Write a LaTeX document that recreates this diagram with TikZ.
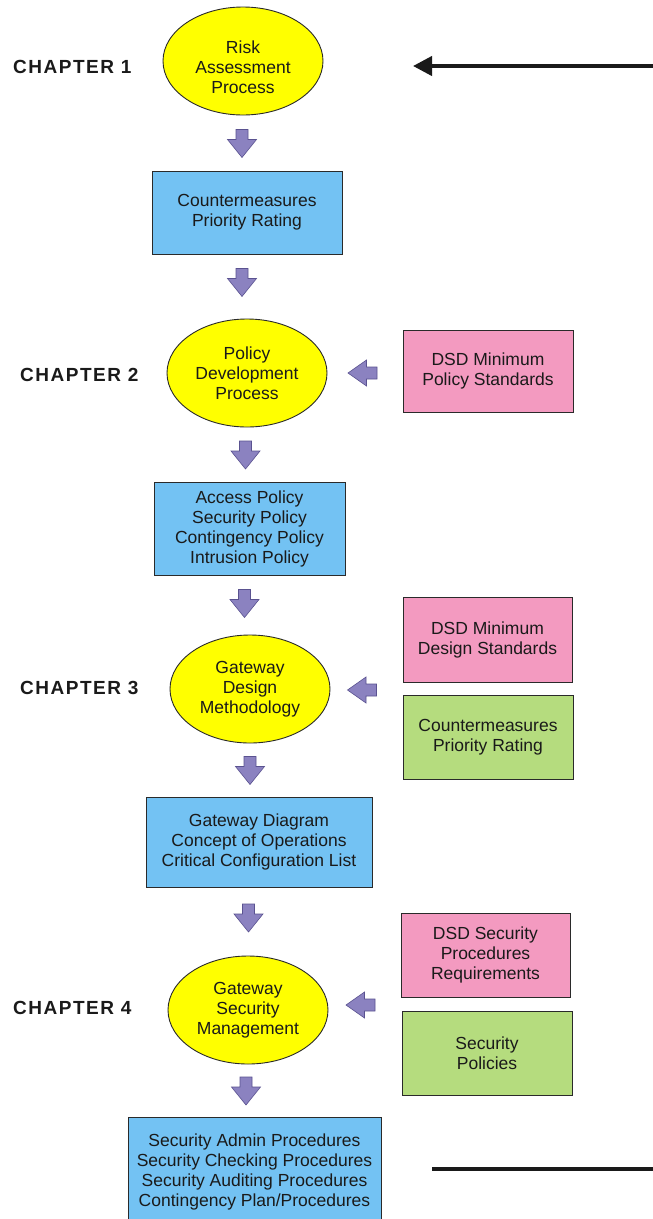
\documentclass[tikz,border=0pt]{standalone}
\usepackage{fontspec}
\setmainfont{Liberation Sans}
\newfontfamily\chapfont[LetterSpace=8]{Liberation Sans}
\usetikzlibrary{arrows.meta,shapes.geometric}
\definecolor{ellfill}{HTML}{FFFF00}
\definecolor{bluefill}{HTML}{73C2F3}
\definecolor{pinkfill}{HTML}{F39AC0}
\definecolor{greenfill}{HTML}{B5DC7E}
\definecolor{arrfill}{HTML}{8B82C0}
\definecolor{arrline}{HTML}{5A5290}
\definecolor{outline}{HTML}{2A2A2A}
\definecolor{txtcol}{HTML}{1A1A1A}
\begin{document}
\begin{tikzpicture}[x=1pt,y=-1pt,
  txt/.style={font=\fontsize{17.5}{20}\selectfont, align=center, text=txtcol, inner sep=0pt},
  ell/.style={txt, ellipse, draw=outline, line width=0.9pt, fill=ellfill, minimum width=160pt, minimum height=108pt},
  bluebox/.style={txt, rectangle, draw=outline, line width=0.9pt, fill=bluefill},
  pinkbox/.style={txt, rectangle, draw=outline, line width=0.9pt, fill=pinkfill},
  greenbox/.style={txt, rectangle, draw=outline, line width=0.9pt, fill=greenfill},
  chap/.style={anchor=west, inner sep=0pt, text=txtcol, font=\chapfont\bfseries\fontsize{19}{20}\selectfont},
  bigline/.style={line width=4pt, draw=txtcol},
  pics/downarr/.style={code={
    \filldraw[fill=arrfill, draw=arrline, line width=0.6pt]
      (-6,-14) -- (6,-14) -- (6,-4) -- (14.5,-4) -- (0,14) -- (-14.5,-4) -- (-6,-4) -- cycle;}},
  pics/leftarr/.style={code={
    \filldraw[fill=arrfill, draw=arrline, line width=0.6pt]
      (14.5,-6) -- (14.5,6) -- (4,6) -- (4,13) -- (-14.5,0) -- (4,-13) -- (4,-6) -- cycle;}}
]
\clip (0,0) rectangle (653,1219);
\useasboundingbox (0,0) rectangle (653,1219);
\fill[white] (0,0) rectangle (653,1219);

% chapter labels
\node[chap] (c1) at (13,67) {CHAPTER 1};
\node[chap] (c2) at (20,375) {CHAPTER 2};
\node[chap] (c3) at (20,688) {CHAPTER 3};
\node[chap] (c4) at (13,1008) {CHAPTER 4};

% main column
\node[ell] (e1) at (243,61) {};
\node[txt] (e1t) at (243,67) {Risk\\Assessment\\Process};
\node[bluebox, minimum width=190pt, minimum height=83pt] (b1) at (247,212.5) {Countermeasures\\Priority Rating};
\node[ell] (e2) at (247,373) {Policy\\Development\\Process};
\node[bluebox, minimum width=191pt, minimum height=93pt] (b2) at (249.5,528.5) {Access Policy\\Security Policy\\Contingency Policy\\Intrusion Policy};
\node[ell] (e3) at (250,689) {Gateway\\Design\\Methodology};
\node[bluebox, minimum width=226pt, minimum height=90pt] (b3) at (259,842) {Gateway Diagram\\Concept of Operations\\Critical Configuration List};
\node[ell] (e4) at (248,1010) {Gateway\\Security\\Management};
\node[bluebox, minimum width=253pt, minimum height=109pt] (b4) at (254.5,1171.5) {Security Admin Procedures\\Security Checking Procedures\\Security Auditing Procedures\\Contingency Plan/Procedures};

% side inputs
\node[pinkbox, minimum width=170pt, minimum height=82pt] (p1) at (488,371) {DSD Minimum\\Policy Standards};
\node[pinkbox, minimum width=169pt, minimum height=85pt] (p2) at (487.5,639.5) {DSD Minimum\\Design Standards};
\node[greenbox, minimum width=170pt, minimum height=84pt] (g1) at (488,737) {Countermeasures\\Priority Rating};
\node[pinkbox, minimum width=169pt, minimum height=84pt] (p3) at (485.5,955) {DSD Security\\Procedures\\Requirements};
\node[greenbox, minimum width=170pt, minimum height=84pt] (g2) at (487,1053) {Security\\Policies};

% block arrows
\pic at (242,143.5) {downarr};
\pic at (242,282.5) {downarr};
\pic at (245.5,455) {downarr};
\pic at (244.5,603.5) {downarr};
\pic at (250,770.5) {downarr};
\pic at (248.5,918) {downarr};
\pic at (246,1091) {downarr};
\pic at (362.5,373) {leftarr};
\pic at (362,690) {leftarr};
\pic at (360.5,1005) {leftarr};

% long lines
\coordinate (topR) at (653,66);
\coordinate (topL) at (413,66);
\draw[bigline, -{Triangle[length=19pt,width=19pt]}] (topR) -- (topL);
\coordinate (botL) at (432,1169);
\coordinate (botR) at (653,1169);
\draw[bigline] (botL) -- (botR);
\end{tikzpicture}
\end{document}
